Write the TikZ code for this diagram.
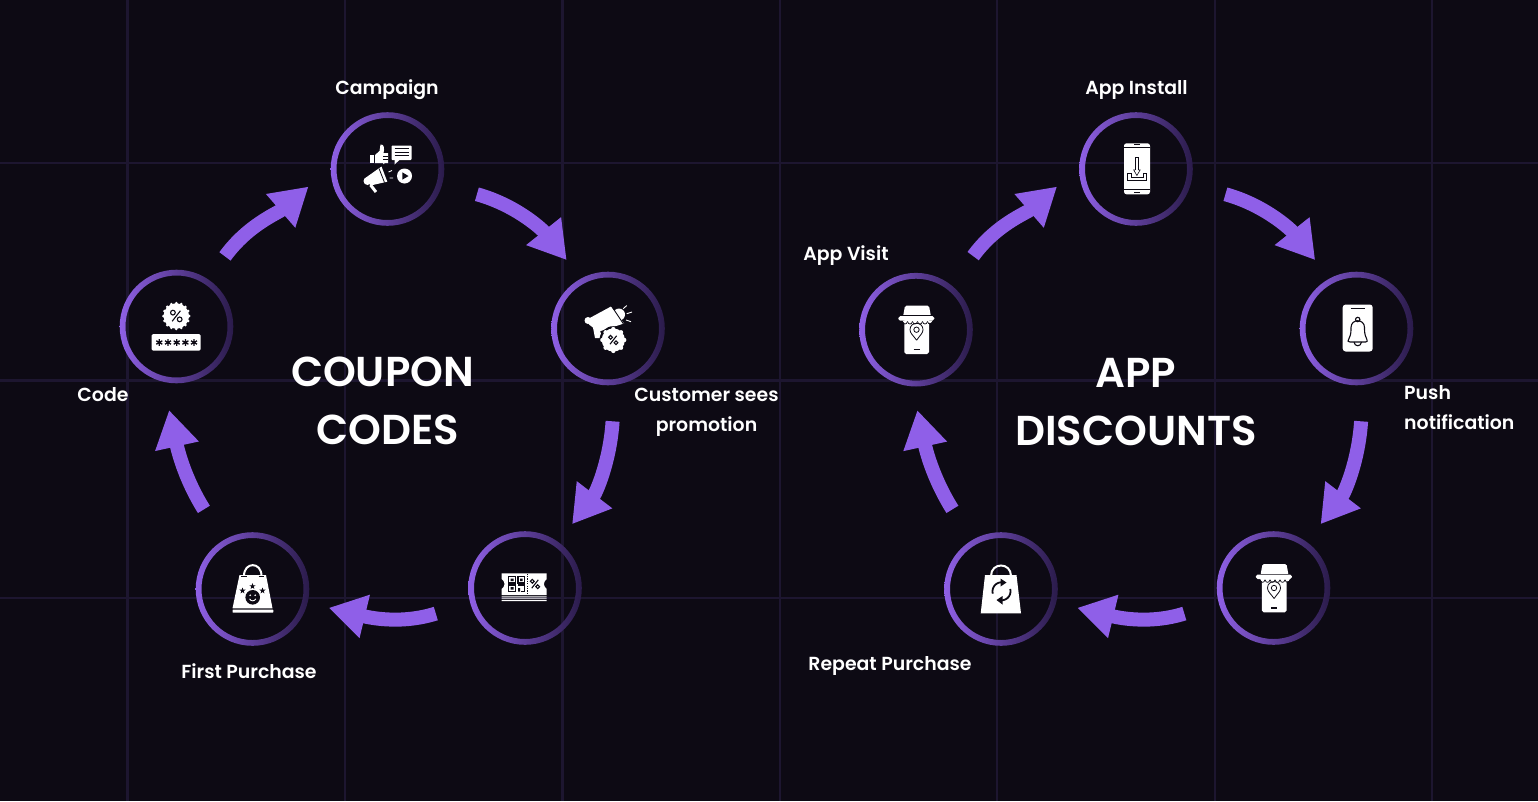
\documentclass[tikz,border=0pt]{standalone}
\usepackage{fontspec}
\setmainfont{Poppins SemiBold}
\usetikzlibrary{arrows.meta}
\definecolor{pagebg}{HTML}{0D0A14}
\definecolor{gridline}{HTML}{1D1630}
\definecolor{flowpurple}{HTML}{8F5FE8}
\definecolor{ringbright}{HTML}{8F60E6}
\definecolor{ringmid}{HTML}{56398F}
\definecolor{ringdark}{HTML}{2A1B4A}
\tikzset{
  hub/.style={circle,minimum size=113pt,inner sep=0pt,outer sep=0pt},
  flow/.style={draw=flowpurple,line width=14pt,-{Triangle[length=37pt,width=42pt]}},
  lab/.style={text=white,align=center,inner sep=0pt,font=\fontsize{18.9}{30}\selectfont},
  ttl/.style={text=white,align=center,inner sep=0pt,font=\fontsize{41.8}{58}\selectfont},
  ink/.style={draw=pagebg,line width=#1,fill=none},
  ink/.default=0.7pt
}
\newcommand{\ringat}[1]{\shade[even odd rule,left color=ringbright,middle color=ringmid,right color=ringdark]
  (#1.center) circle (56.8) (#1.center) circle (51);}
\newcommand{\pctmark}[3]{\begin{scope}[shift={(#1,#2)},scale=#3]
  \draw[ink=1.1pt] (-2.7,-2.7) circle (1.9) (2.7,2.7) circle (1.9) (3.3,-4.2) -- (-3.3,4.2);
\end{scope}}
\newcommand{\astmark}[2]{\begin{scope}[shift={(#1,#2)}]
  \draw[ink=1.3pt] (0,-3.4)--(0,3.4) (-3,-1.7)--(3,1.7) (-3,1.7)--(3,-1.7);
\end{scope}}
\newcommand{\starmark}[2]{\fill[pagebg,shift={(#1,#2)}] (0,-3.2)--(.8,-1)--(3.1,-1)--(1.2,.4)--(1.9,2.7)--(0,1.3)--(-1.9,2.7)--(-1.2,.4)--(-3.1,-1)--(-.8,-1)--cycle;}
\newcommand{\iconCampaign}{%
  \fill[white] (-17.5,-14.5) rectangle (-13.5,-6);
  \fill[white] (-12.5,-14)--(-8,-18)--(-7,-24.5) .. controls (-3,-25) and (-3,-20) .. (-4,-16)--(0.5,-16)--(0.5,-6)--(-12.5,-6)--cycle;
  \draw[ink=.7pt] (-4.5,-13)--(0.5,-13) (-4.5,-10)--(0.5,-10);
  \fill[white,rounded corners=.8] (4,-23.5) rectangle (24,-9);
  \fill[white] (7,-10)--(7,-4.5)--(13,-10)--cycle;
  \draw[ink=.8pt] (7,-20.5)--(21,-20.5) (7,-17)--(21,-17) (7,-13.5)--(21,-13.5);
  \fill[white] (-20,12) circle (4);
  \fill[white] (-21.5,8.5)--(-6,-2.5)--(-.2,12.7)--(-17,16.5)--cycle;
  \draw[ink=.8pt] (-8.5,-.5)--(-3,13.5);
  \draw[white,line width=3pt] (-17,16)--(-11.5,23);
  \draw[white,line width=.9pt] (-4,-5)--(-2.5,-8) (1,3)--(4.5,1.5) (2,9)--(5.5,9);
  \fill[white] (17,7) circle (7.5);
  \fill[pagebg] (14.8,3.3)--(21,7)--(14.8,10.7)--cycle;}
\newcommand{\iconPromo}{%
  \fill[white] (-20,-8) circle (3.5);
  \fill[white] (-21,-9)--(3,-22)--(16,-5)--(-9.7,3.2)--(-19,-4)--cycle;
  \fill[white] (11,-14) circle (6);
  \fill[white] (-15,-1)--(-9,-2)--(-6,9.5)--(-13,9.5)--cycle;
  \draw[ink=.9pt] (3.5,-22.5)--(15.5,-4.5);
  \fill[pagebg] (5.3,11.5) circle (13.8);
  \fill[white] (5.3,11.5) circle (11.6);
  \foreach \a in {0,45,...,315}{\fill[white] ({5.3+10.9*cos(\a)},{11.5+10.9*sin(\a)}) circle (2.2);}
  \pctmark{5.3}{11.5}{1}
  \draw[white,line width=.9pt] (15.3,-19.8)--(18.7,-23) (18.7,-14.8)--(24,-16.5) (18,-8.5)--(23,-6.8);}
\newcommand{\iconTicket}{%
  \fill[white] (-23.3,-14.7)--(21.7,-14.7)--(21.7,-9) .. controls (18,-6) and (18,-2) .. (21.7,1)--(21.7,7)--(-23.3,7)--(-23.3,1) .. controls (-19.5,-2) and (-19.5,-6) .. (-23.3,-9)--cycle;
  \fill[white] (-23.3,8.4) rectangle (21.7,9.4) (-23.3,10.4) rectangle (21.7,11.2) (-23.3,12.2) rectangle (21.7,13.2);
  \draw[ink=1.1pt] (-16.5,-11.5) rectangle (-9.5,-5) (-7,-11.5) rectangle (-.5,-5) (-16.5,-3) rectangle (-9.5,3.5) (-7,-3) -- (-.5,-3) -- (-.5,3.5) -- (-4,3.5);
  \fill[pagebg] (-14.5,-9.5) rectangle (-11.5,-7) (-5,-9.5) rectangle (-2.5,-7) (-14.5,-1) rectangle (-11.5,1.5) (-7,0) rectangle (-5,3.5);
  \draw[pagebg,line width=.8pt,dash pattern=on 1.2pt off 1.2pt] (2.3,-14.5)--(2.3,6.8);
  \pctmark{10}{-4}{1}}
\newcommand{\iconFirst}{%
  \draw[white,line width=2pt] (-8.5,-13) .. controls (-8.5,-27.5) and (9,-27.5) .. (9,-13);
  \fill[white] (-13,-14)--(13.5,-14)--(20,19.3)--(-20,19.3)--cycle;
  \fill[white,rounded corners=.6] (-20,20.5) rectangle (20.8,23.7);
  \draw[ink=1.2pt] (-11.5,-12.5)--(-6,-12.5) (6,-12.5)--(11.5,-12.5);
  \starmark{0}{-2.7}\starmark{-10}{1.7}\starmark{10}{1.7}
  \fill[pagebg] (0.2,8.3) circle (7.3);
  \fill[white] (-2.3,6.3) circle (.9) (2.7,6.3) circle (.9);
  \draw[white,line width=.9pt] (-3,9.8) .. controls (-1.5,12.5) and (1.9,12.5) .. (3.4,9.8);}
\newcommand{\iconCode}{%
  \fill[white] (-.2,-10.5) circle (12.8);
  \foreach \a in {0,22.5,...,337.5}{\fill[white] ({-.2+12.8*cos(\a)},{-10.5+12.8*sin(\a)}) circle (1.5);}
  \pctmark{-.2}{-10.5}{1.25}
  \fill[white,rounded corners=1.5] (-25,7.5) rectangle (24.2,24.2);
  \foreach \u in {-17.2,-8.5,0.2,8.9,17.5}{\astmark{\u}{16}}}
\newcommand{\iconInstall}{%
  \fill[white,rounded corners=2.5] (-12,-25.7) rectangle (14,25.3);
  \draw[ink=.3pt] (-12,-21.5)--(14,-21.5) (-12,20)--(14,20);
  \draw[ink=1pt] (-2,-24.2)--(4,-24.2) (-2,23.2)--(4,23.2);
  \draw[ink=.6pt] (-.9,-11.7) rectangle (2.7,1.5);
  \draw[ink=.6pt,fill=white] (-.9,1)--(-2.3,1)--(.9,6.5)--(4.1,1)--(2.7,1);
  \draw[ink=.6pt] (-8.8,4.5)--(-8.8,11.5)--(10.5,11.5)--(10.5,4.5)--(7,4.5)--(7,8)--(-5.2,8)--(-5.2,4.5)--cycle;}
\newcommand{\iconStore}{%
  \fill[white,rounded corners=1.5] (-11,-24)--(13,-24)--(15,-13)--(-13,-13)--cycle;
  \fill[white,rounded corners=1.8] (-11.7,-12) rectangle (13,24.3);
  \fill[pagebg] (-18,-14.5) rectangle (18.6,-13.5);
  \fill[white,rounded corners=1.8] (-17.7,-13.5) rectangle (18.3,-9);
  \foreach \u in {-13.5,-8.5,...,11.5}{\fill[white] (\u,-9.2) .. controls (\u+1,-5.8) and (\u+4,-5.8) .. (\u+5,-9.2)--cycle;
    \draw[ink=.7pt] (\u,-8.2) .. controls (\u+1,-4.8) and (\u+4,-4.8) .. (\u+5,-8.2);}
  \draw[ink=.8pt] (.6,10.5) .. controls (-3,5.5) and (-6,3.5) .. (-6,0) .. controls (-6,-8.5) and (7,-8.5) .. (7,0) .. controls (7,3.5) and (4,5.5) .. (.6,10.5);
  \draw[ink=.8pt] (.5,0) circle (2.7);
  \draw[ink=1.2pt] (-2.5,20)--(3.5,20);}
\newcommand{\iconPush}{%
  \fill[white,rounded corners=3] (-13.8,-24) rectangle (16.2,23);
  \draw[ink=1.1pt] (-6,-20.3)--(8.5,-20.3);
  \draw[ink=1.1pt] (1.2,-9) circle (2.2);
  \draw[ink=1.1pt] (-7.5,10) .. controls (-5.5,6) and (-5.5,3) .. (-5.5,-1) .. controls (-5.5,-10) and (8,-10) .. (8,-1) .. controls (8,3) and (8,6) .. (10,10) .. controls (11.2,13) and (10.5,13.5) .. (9,13.5)--(-6.5,13.5) .. controls (-8.5,13.5) and (-9,13) .. (-7.5,10)--cycle;
  \draw[ink=1.1pt] (-2.5,13.5) .. controls (-2,18.5) and (4.5,18.5) .. (5,13.5);}
\newcommand{\iconRepeat}{%
  \draw[white,line width=2pt] (-10,-13) .. controls (-10,-27) and (10,-27) .. (10,-13);
  \fill[white] (-16,-14)--(15.5,-14)--(20,24.3)--(-20.3,24.3)--cycle;
  \draw[ink=1.8pt] plot[domain=165:285,samples=14] ({.5+9*cos(\x)},{2.3+9*sin(\x)});
  \draw[ink=1.8pt] plot[domain=345:465,samples=14] ({.5+9*cos(\x)},{2.3+9*sin(\x)});
  \fill[pagebg] (-.5,-10.5)--(5.5,-6.5)--(-.5,-2.5)--cycle (1.5,7)--(-4.5,11)--(1.5,15.5)--cycle;}
\newcommand{\iconin}[2]{\begin{scope}[shift={(#1.center)},x=1pt,y=-1pt]#2\end{scope}}
\begin{document}
\begin{tikzpicture}[x=1pt,y=1pt]
\useasboundingbox (0,0) rectangle (1538,-801);
\fill[pagebg] (0,0) rectangle (1538,-801);
\foreach \u in {127.5,345,562.5,780,997,1215,1432}{\draw[gridline,line width=2.4pt] (\u,0)--(\u,-801);}
\foreach \v in {-163,-380.5,-598}{\draw[gridline,line width=2.4pt] (0,\v)--(1538,\v);}
% left cycle
\node[hub] (campaign) at (387.5,-169) {};
\node[hub] (customer) at (608,-328.5) {};
\node[hub] (ticket) at (525,-588) {};
\node[hub] (first) at (252.5,-589) {};
\node[hub] (code) at (176.5,-326.5) {};
% right cycle
\node[hub] (install) at (1136,-169) {};
\node[hub] (push) at (1356.5,-328.5) {};
\node[hub] (store) at (1273.5,-588) {};
\node[hub] (repeatp) at (1001,-589) {};
\node[hub] (visit) at (916,-329.7) {};
\ringat{campaign}\ringat{customer}\ringat{ticket}\ringat{first}\ringat{code}
\ringat{install}\ringat{push}\ringat{store}\ringat{repeatp}\ringat{visit}
\iconin{campaign}{\iconCampaign}
\iconin{customer}{\iconPromo}
\iconin{ticket}{\iconTicket}
\iconin{first}{\iconFirst}
\iconin{code}{\iconCode}
\iconin{install}{\iconInstall}
\iconin{push}{\iconPush}
\iconin{store}{\iconStore}
\iconin{repeatp}{\iconRepeat}
\iconin{visit}{\iconStore}
% connectors, left
\draw[flow,shorten <=28.75pt,shorten >=29.85pt] (code.56.4) .. controls +(54:68) and +(221:70) .. (campaign.178.4);
\draw[flow,shorten <=36.4pt,shorten >=23.75pt] (campaign.344.4) .. controls +(-15.4:76) and +(128.6:64) .. (customer.118.8);
\draw[flow,shorten <=36.8pt,shorten >=22.85pt] (customer.277.2) .. controls +(266.4:76) and +(52.6:63) .. (ticket.54.9);
\draw[flow,shorten <=36.3pt,shorten >=22.05pt] (ticket.195) .. controls +(197.5:74) and +(346.5:62) .. (first.346.2);
\draw[flow,shorten <=36.8pt,shorten >=29.45pt] (first.121.1) .. controls +(122:74) and +(282.3:69.5) .. (code.256.3);
% connectors, right
\draw[flow,shorten <=36.7pt,shorten >=29.85pt] (visit.51) .. controls +(54:76) and +(221:70) .. (install.178.4);
\draw[flow,shorten <=36.4pt,shorten >=23.75pt] (install.344.4) .. controls +(-15.4:76) and +(128.6:64) .. (push.118.8);
\draw[flow,shorten <=36.8pt,shorten >=22.85pt] (push.277.2) .. controls +(266.4:76) and +(52.6:63) .. (store.54.9);
\draw[flow,shorten <=36.3pt,shorten >=22.05pt] (store.195) .. controls +(197.5:74) and +(346.5:62) .. (repeatp.346.2);
\draw[flow,shorten <=36.8pt,shorten >=24.7pt] (repeatp.121.1) .. controls +(122:74) and +(282.3:65) .. (visit.266.5);
% labels
\node[lab] (lcampaign) at (387,-90) {Campaign};
\node[lab] (lcustomer) at (706.5,-412.5) {Customer sees\\promotion};
\node[lab] (lcode) at (103,-395) {Code};
\node[lab] (lfirst) at (249,-671.5) {First Purchase};
\node[lab] (linstall) at (1136.5,-90) {App Install};
\node[lab] (lvisit) at (846,-256) {App Visit};
\node[lab,align=left,anchor=west] (lpush) at (1404,-408) {Push\\notification};
\node[lab] (lrepeat) at (890,-666) {Repeat Purchase};
\node[ttl] (tcoupon) at (388,-401) {COUPON\hspace*{11pt}\\CODES};
\node[ttl] (tapp) at (1136,-402) {APP\\DISCOUNTS};
\end{tikzpicture}
\end{document}
